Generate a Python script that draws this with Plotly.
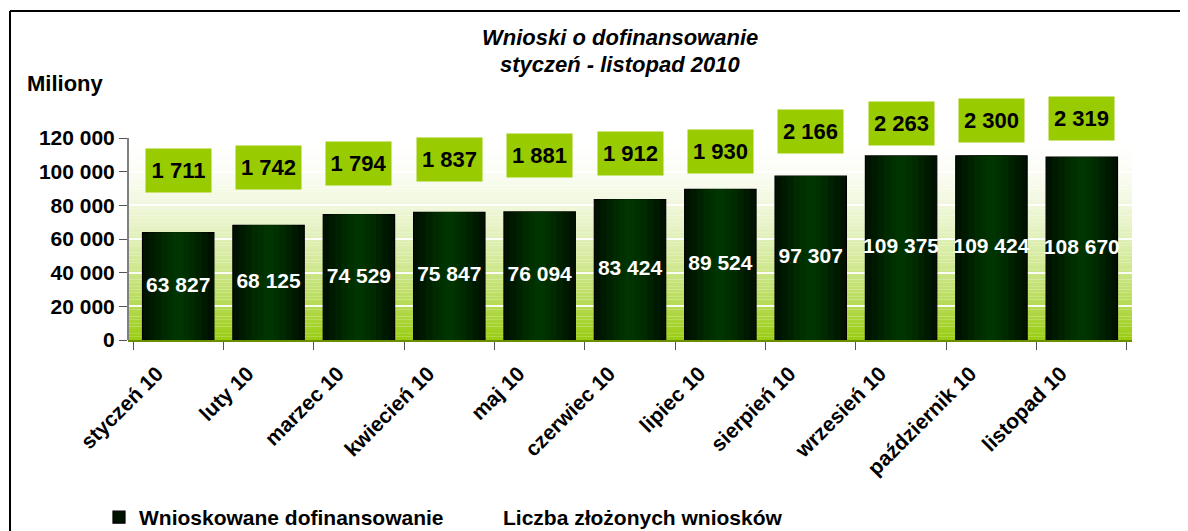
import plotly.graph_objects as go

months = ["styczeń 10", "luty 10", "marzec 10", "kwiecień 10", "maj 10", "czerwiec 10",
          "lipiec 10", "sierpień 10", "wrzesień 10", "październik 10", "listopad 10"]
funding = [63827, 68125, 74529, 75847, 76094, 83424, 89524, 97307, 109375, 109424, 108670]
applications = [1711, 1742, 1794, 1837, 1881, 1912, 1930, 2166, 2263, 2300, 2319]
y_ticks = [0, 20000, 40000, 60000, 80000, 100000, 120000]

FONT = "Liberation Sans, Arial, sans-serif"

# the page body has an 8px margin: figure pixel = reference pixel - 8
S = 8
FW, FH = 1188 - S, 531 - S
# plot-area geometry in reference pixels
L, R, T, B = 128, 1132, 105, 340
W, H = R - L, B - T
px = lambda x: (x - L) / W
py = lambda y: (B - y) / H


def fmt(v):
    return f"{v:,}".replace(",", " ")


fig = go.Figure()

# bars with a simulated horizontal gradient (layers of narrowing bars)
layers = [(0.79, "#001200", True), (0.66, "#001a00", False), (0.52, "#002200", False),
          (0.38, "#002a00", False), (0.24, "#003000", False), (0.12, "#003400", False)]
for w, col, first in layers:
    fig.add_trace(go.Bar(
        x=months, y=funding, width=w,
        marker=dict(color=col, line=dict(color="#000000", width=1.2 if first else 0)),
        name="Wnioskowane dofinansowanie", showlegend=first, legend="legend",
        hoverinfo="skip"))

# bar value labels
fig.add_trace(go.Scatter(
    x=months, y=[v / 2 for v in funding], mode="text",
    text=[fmt(v) for v in funding],
    textfont=dict(family=FONT, size=21, color="white", weight="bold"),
    showlegend=False, hoverinfo="skip"))

# second series: number of applications (labels only)
fig.add_trace(go.Scatter(
    x=months, y=applications, yaxis="y2", mode="lines",
    line=dict(width=0, color="rgba(0,0,0,0)"),
    name="Liczba złożonych wniosków", legend="legend2", hoverinfo="skip"))

annotations = []
for m, a in zip(months, applications):
    annotations.append(dict(
        x=m, y=a, xref="x", yref="y2", text=fmt(a), showarrow=False,
        bgcolor="#99cc00", width=63, height=41,
        font=dict(family=FONT, size=22, color="black", weight="bold")))

annotations += [
    dict(xref="paper", yref="paper", x=px(620), y=py(37),
         xanchor="center", yanchor="middle", showarrow=False,
         text="<i>Wnioski o dofinansowanie</i>",
         font=dict(family=FONT, size=22, color="black", weight="bold")),
    dict(xref="paper", yref="paper", x=px(620), y=py(65),
         xanchor="center", yanchor="middle", showarrow=False,
         text="<i>styczeń - listopad 2010</i>",
         font=dict(family=FONT, size=22, color="black", weight="bold")),
    dict(xref="paper", yref="paper", x=px(25), y=py(83),
         xanchor="left", yanchor="middle", showarrow=False,
         text="Miliony",
         font=dict(family=FONT, size=22, color="black", weight="bold")),
]

# gradient background of the plot area (0 .. 120 000)
shapes = []
N = 60
top = (255, 255, 255)
bot = (0x99, 0xcc, 0x10)
ymax = y_ticks[-1]
for i in range(N):
    t = (i + 0.5) / N
    f = t ** 1.7
    c = tuple(round(top[k] + (bot[k] - top[k]) * f) for k in range(3))
    shapes.append(dict(type="rect", xref="paper", yref="y",
                       x0=0, x1=1, y0=ymax * (1 - (i + 1) / N), y1=ymax * (1 - i / N),
                       fillcolor=f"rgb{c}", line=dict(width=0), layer="below"))

# y axis line only up to the top tick
shapes.append(dict(type="line", xref="paper", yref="y", x0=0, x1=0, y0=0, y1=ymax,
                   line=dict(color="#808080", width=2)))

# outer frame
shapes.append(dict(type="line", xref="paper", yref="paper", x0=px(10), x1=px(1200),
                   y0=py(11), y1=py(11), line=dict(color="black", width=2)))
shapes.append(dict(type="line", xref="paper", yref="paper", x0=px(10), x1=px(10),
                   y0=py(11), y1=py(560), line=dict(color="black", width=2)))

legend_font = dict(family=FONT, size=21, color="black", weight="bold")

fig.update_layout(
    width=FW, height=FH,
    margin=dict(l=L - S, r=FW - (R - S), t=T - S, b=FH - (B - S), autoexpand=False),
    paper_bgcolor="white", plot_bgcolor="rgba(0,0,0,0)",
    barmode="overlay",
    separators=", ",
    font=dict(family=FONT, color="black"),
    showlegend=True,
    legend=dict(orientation="h", x=px(99), y=py(497), xanchor="left", yanchor="top",
                font=legend_font, bgcolor="rgba(0,0,0,0)", itemwidth=30),
    legend2=dict(orientation="h", x=px(463), y=py(497), xanchor="left", yanchor="top",
                 font=legend_font, bgcolor="rgba(0,0,0,0)", itemwidth=30),
    xaxis=dict(type="category", showgrid=False, tickangle=-45,
               tickfont=dict(family=FONT, size=21, color="black", weight="bold"),
               ticks="outside", tickson="boundaries", ticklen=8, tickcolor="#555555",
               ticklabelshift=-21, ticklabelstandoff=11,
               showline=True, linecolor="#6b8e00", linewidth=2, zeroline=False),
    yaxis=dict(range=[0, ymax * H / 202], tickvals=y_ticks, tickformat=",d",
               tickfont=dict(family=FONT, size=21, color="black", weight="bold"),
               ticks="outside", ticklen=8, tickcolor="#555555",
               showline=False,
               showgrid=True, gridcolor="rgba(255,255,255,0.9)", gridwidth=1.5,
               zeroline=False),
    yaxis2=dict(overlaying="y", side="right", range=[-315, 1711 + (170 - T) / 0.0839],
                showgrid=False, showticklabels=False, zeroline=False, showline=False,
                ticks=""),
    annotations=annotations,
    shapes=shapes,
)

fig.write_html("out.html")
